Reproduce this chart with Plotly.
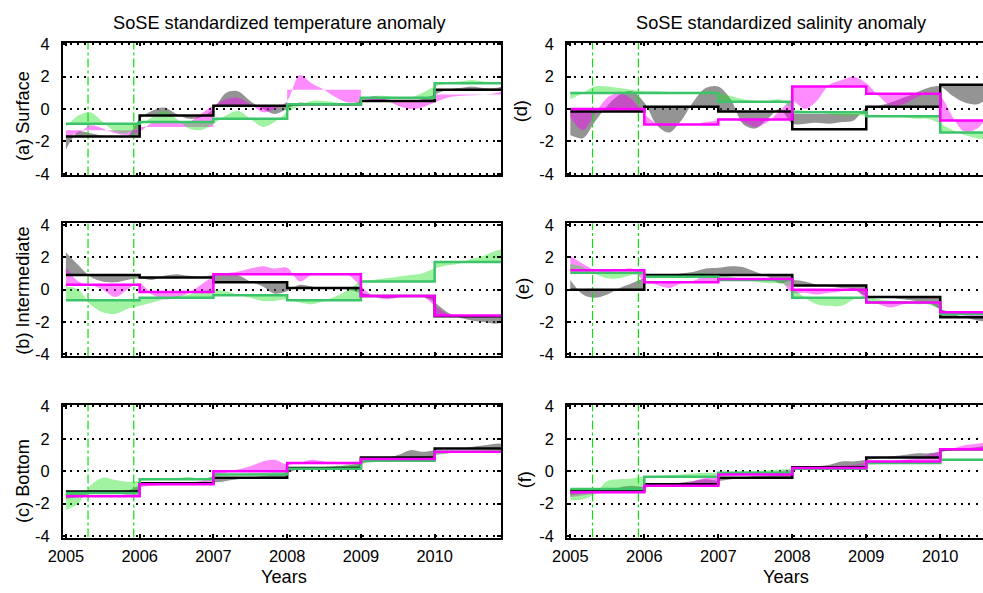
import plotly.graph_objects as go

# ---------------- data ----------------
T = [2005.0, 2005.17, 2005.33, 2005.5, 2005.67, 2005.83,
     2006.0, 2006.17, 2006.33, 2006.5, 2006.67, 2006.83,
     2007.0, 2007.17, 2007.33, 2007.5, 2007.67, 2007.83,
     2008.0, 2008.17, 2008.33, 2008.5, 2008.67, 2008.83,
     2009.0, 2009.17, 2009.33, 2009.5, 2009.67, 2009.83,
     2010.0, 2010.17, 2010.33, 2010.5, 2010.67, 2010.83, 2010.92]
YEAR_EDGES = [2005, 2006, 2007, 2008, 2009, 2010, 2010.92]
YEAR_TICKS = [2005, 2006, 2007, 2008, 2009, 2010]
Y_TICKS = [-4, -2, 0, 2, 4]
VLINES = [2005.3, 2005.92]

# (a) temperature, surface
a_blk = [-2.5, -1.4, -1.5, -1.65, -1.7, -1.7, -0.6, -0.1, 0.1, -0.3, -0.6, -0.5,
         0.0, 1.0, 1.1, 0.5, 0.0, -0.3, 0.0, 0.4, 0.3, 0.3, 0.3, 0.3,
         0.5, 0.6, 0.6, 0.5, 0.5, 0.6, 0.9, 1.2, 1.3, 1.4, 1.3, 1.3, 1.4]
a_blk_step = [-1.7, -0.4, 0.2, 0.3, 0.5, 1.2]
a_mag = [-1.7, -1.5, -1.0, -1.2, -1.5, -1.6, -1.4, -0.85, -0.8, -0.85, -0.8, -0.3,
         0.2, 0.6, 0.7, 0.3, -0.2, 0.0, 0.5, 2.1, 1.6, 1.2, 0.7, 0.4,
         0.5, 0.8, 0.6, 0.2, 0.0, 0.1, 0.4, 0.7, 0.8, 0.85, 0.9, 1.0, 1.1]
a_mag_step = [-1.3, -1.1, 0.2, 1.2, 0.5, 0.9]
a_grn = [-1.1, -0.4, -0.2, -0.8, -1.4, -1.5, -1.0, -0.5, -0.1, -0.6, -1.2, -1.3,
         -0.9, -0.4, -0.1, -0.6, -1.1, -0.8, -0.2, 0.2, 0.5, 0.5, 0.4, 0.2,
         0.5, 0.8, 0.8, 0.7, 0.7, 1.0, 1.4, 1.6, 1.7, 1.8, 1.7, 1.6, 1.6]
a_grn_step = [-0.9, -0.8, -0.6, 0.3, 0.7, 1.6]

# (b) temperature, intermediate
b_blk = [2.3, 1.5, 0.8, 0.5, 0.45, 0.6, 0.7, 0.6, 0.85, 0.95, 0.85, 0.8,
         0.9, 1.0, 0.9, 0.5, 0.2, -0.25, -0.1, 0.3, 0.2, 0.1, 0.05, 0.0,
         -0.2, -0.4, -0.5, -0.45, -0.4, -0.4, -0.8, -1.4, -1.7, -1.9, -2.0, -2.1, -2.0]
b_blk_step = [0.9, 0.75, 0.45, 0.1, -0.4, -1.65]
b_mag = [1.4, 0.5, 0.3, 0.0, -0.45, 0.0, 0.4, -0.3, -0.6, -0.5, -0.2, 0.3,
         0.8, 1.0, 1.1, 1.3, 1.45, 1.3, 1.35, 0.5, 0.9, 1.0, 1.0, 0.9,
         0.2, -0.4, -0.6, -0.5, -0.4, -0.4, -1.0, -1.5, -1.7, -1.7, -1.7, -1.6, -1.5]
b_mag_step = [0.3, -0.15, 0.95, 0.95, -0.4, -1.6]
b_grn = [0.2, 0.0, -0.9, -1.4, -1.5, -1.2, -1.0, -0.8, -0.6, -0.4, -0.3, -0.1,
         0.0, -0.1, -0.3, -0.5, -0.7, -0.7, -0.6, -0.8, -0.9, -0.7, -0.4, 0.0,
         0.5, 0.6, 0.7, 0.8, 0.9, 1.0, 1.3, 1.5, 1.6, 1.9, 2.1, 2.4, 2.5]
b_grn_step = [-0.65, -0.5, -0.35, -0.65, 0.5, 1.7]

# (c) temperature, bottom
c_blk = [-1.7, -1.6, -1.4, -1.3, -1.25, -1.2, -0.9, -0.8, -0.75, -0.7, -0.7, -0.7,
         -0.7, -0.6, -0.5, -0.4, -0.3, -0.2, -0.1, 0.15, 0.2, 0.25, 0.3, 0.35,
         0.5, 0.7, 0.8, 1.0, 1.3, 1.2, 1.3, 1.4, 1.4, 1.5, 1.6, 1.7, 1.7]
c_blk_step = [-1.25, -0.75, -0.4, 0.2, 0.85, 1.4]
c_mag = [-1.6, -1.55, -1.5, -1.5, -1.5, -1.4, -1.0, -0.9, -0.85, -0.8, -0.7, -0.6,
         -0.3, -0.1, 0.1, 0.3, 0.6, 0.7, 0.4, 0.5, 0.7, 0.6, 0.5, 0.4,
         0.5, 0.6, 0.7, 0.75, 0.8, 0.9, 1.0, 1.1, 1.15, 1.2, 1.2, 1.25, 1.25]
c_mag_step = [-1.55, -0.8, 0.0, 0.5, 0.75, 1.2]
c_grn = [-2.4, -2.0, -0.9, -0.4, -0.55, -0.65, -0.6, -0.55, -0.5, -0.45, -0.35, -0.5,
         -0.3, -0.25, -0.2, -0.15, -0.1, -0.05, 0.1, 0.15, 0.2, 0.25, 0.3, 0.4,
         0.45, 0.55, 0.6, 0.7, 0.8, 0.85, 1.0, 1.1, 1.2, 1.25, 1.3, 1.35, 1.35]
c_grn_step = [-1.35, -0.5, -0.2, 0.15, 0.65, 1.2]

# (d) salinity, surface
d_blk = [-1.6, -1.8, -0.8, 0.2, 0.9, 1.1, 0.4, -1.0, -1.45, -0.7, 0.5, 1.3,
         1.4, 0.6, -0.9, -1.2, -0.6, 0.0, -0.9, -0.9, -0.85, -0.9, -0.8, -0.7,
         0.1, 0.2, 0.4, 0.7, 1.0, 1.3, 1.4, 0.8, 0.4, 0.3, 0.7, 1.0, 1.1]
d_blk_step = [-0.15, 0.15, -0.15, -1.25, 0.15, 1.5]
d_blk_base = [-0.15, 0.15, -0.15, -0.3, 0.15, 1.5]
d_mag = [-0.5, -1.3, -0.3, 0.7, 1.0, 0.6, -0.3, -0.9, -1.0, -1.0, -0.95, -0.8,
         -0.7, -0.6, -0.8, -1.1, -0.8, -0.1, 0.5, 0.0, 0.5, 1.5, 1.8, 2.0,
         1.6, 0.8, 0.2, 0.3, 0.7, 1.0, 0.8, -0.5, -1.4, -1.2, -0.3, 0.2, 0.3]
d_mag_step = [0.0, -0.95, -0.65, 1.4, 0.95, -0.7]
d_grn = [0.6, 1.0, 1.4, 1.4, 1.3, 1.2, 1.1, 1.1, 1.05, 1.0, 1.0, 1.1,
         1.0, 0.8, 0.6, 0.5, 0.5, 0.6, 0.0, -0.1, -0.2, -0.3, -0.4, -0.4,
         -0.4, -0.45, -0.5, -0.5, -0.6, -0.6, -0.9, -1.3, -1.6, -1.8, -1.9, -2.0, -2.0]
d_grn_step = [1.0, 1.0, 0.45, -0.2, -0.45, -1.45]

# (e) salinity, intermediate
e_blk = [0.6, -0.3, -0.5, -0.3, 0.1, 0.4, 0.7, 0.9, 0.9, 1.0, 1.1, 1.3,
         1.35, 1.45, 1.4, 1.1, 0.8, 0.4, 0.6, 0.5, 0.3, 0.2, 0.1, 0.0,
         -0.4, -0.5, -0.5, -0.6, -0.7, -0.8, -1.2, -1.5, -1.7, -1.9, -2.0, -2.0, -2.1]
e_blk_step = [0.0, 0.9, 0.9, 0.26, -0.46, -1.7]
e_mag = [2.1, 1.6, 1.2, 1.1, 1.2, 1.3, 0.5, 0.3, 0.1, 0.4, 0.55, 0.85,
         0.65, 0.7, 0.7, 0.7, 0.7, 0.6, -0.2, -0.2, -0.3, -0.2, -0.1, 0.1,
         -0.6, -0.9, -1.1, -0.9, -0.8, -0.8, -1.2, -1.5, -1.6, -1.7, -1.8, -1.9, -1.9]
e_mag_step = [1.2, 0.45, 0.65, 0.0, -0.8, -1.4]
e_grn = [1.6, 1.4, 1.0, 0.7, 0.7, 0.9, 0.9, 0.9, 0.9, 0.9, 1.0, 1.0,
         0.9, 0.8, 0.6, 0.5, 0.4, 0.4, 0.1, -0.5, -0.9, -1.0, -1.0, -0.6,
         -0.4, -0.6, -0.7, -0.8, -0.9, -0.9, -1.2, -1.4, -1.45, -1.5, -1.5, -1.5, -1.5]
e_grn_step = [1.05, 0.8, 0.6, -0.5, -0.8, -1.5]

# (f) salinity, bottom
f_blk = [-1.5, -1.4, -1.3, -1.2, -1.0, -0.9, -1.0, -0.9, -0.8, -0.7, -0.6, -0.5,
         -0.6, -0.5, -0.4, -0.3, -0.25, -0.2, 0.0, 0.2, 0.3, 0.4, 0.6, 0.6,
         0.7, 0.8, 0.9, 1.0, 1.1, 1.1, 1.2, 1.3, 1.4, 1.5, 1.6, 1.7, 1.7]
f_blk_step = [-1.2, -0.8, -0.4, 0.25, 0.85, 1.35]
f_mag = [-1.6, -1.5, -1.4, -1.3, -1.2, -1.1, -0.9, -0.85, -0.8, -0.75, -0.6, -0.4,
         -0.3, -0.25, -0.2, -0.15, -0.1, 0.0, 0.1, 0.2, 0.2, 0.3, 0.35, 0.4,
         0.5, 0.55, 0.6, 0.7, 0.8, 1.0, 1.2, 1.4, 1.6, 1.7, 1.8, 1.7, 1.7]
f_mag_step = [-1.3, -0.9, -0.2, 0.2, 0.6, 1.35]
f_grn = [-1.8, -1.75, -1.4, -0.6, -0.5, -0.45, -0.35, -0.3, -0.25, -0.2, -0.15, -0.1,
         -0.1, -0.05, 0.0, 0.0, 0.05, 0.1, 0.15, 0.2, 0.2, 0.25, 0.3, 0.35,
         0.4, 0.45, 0.5, 0.5, 0.55, 0.6, 0.7, 0.7, 0.75, 0.75, 0.75, 0.7, 0.7]
f_grn_step = [-1.1, -0.35, -0.1, 0.15, 0.5, 0.7]

# ---------------- styling ----------------
W, H = 983, 593
FONT = "Liberation Sans, Arial, sans-serif"
FILL = {"k": "rgba(70,70,70,0.58)", "m": "rgba(255,0,255,0.45)", "g": "rgba(30,225,30,0.42)"}
LINE = {"k": "#000000", "m": "#ff00ff", "g": "#3cc46a"}

# the page is photographed with the paper spanning pixels x 13..969, y 2..591
PX0, PXW, PY0, PYH = 13.0, 956.0, 2.0, 589.0


def FX(px):
    return min(max((px - PX0) / PXW, 0.0), 1.0)


def FY(py):
    return min(max(1 - (py - PY0) / PYH, 0.0), 1.0)


panels = [
    ("(a) Surface", 0, 0, [("k", a_blk, a_blk_step, a_blk_step), ("m", a_mag, a_mag_step, None),
                          ("g", a_grn, a_grn_step, a_grn_step)]),
    ("(b) Intermediate", 0, 1, [("k", b_blk, b_blk_step, b_blk_step), ("m", b_mag, b_mag_step, b_mag_step),
                               ("g", b_grn, b_grn_step, b_grn_step)]),
    ("(c) Bottom", 0, 2, [("k", c_blk, c_blk_step, c_blk_step), ("m", c_mag, c_mag_step, c_mag_step),
                         ("g", c_grn, c_grn_step, c_grn_step)]),
    ("(d)", 1, 0, [("k", d_blk, d_blk_base, d_blk_step), ("m", d_mag, d_mag_step, d_mag_step),
                  ("g", d_grn, d_grn_step, d_grn_step)]),
    ("(e)", 1, 1, [("k", e_blk, e_blk_step, e_blk_step), ("m", e_mag, e_mag_step, e_mag_step),
                  ("g", e_grn, e_grn_step, e_grn_step)]),
    ("(f)", 1, 2, [("k", f_blk, f_blk_step, f_blk_step), ("m", f_mag, f_mag_step, f_mag_step),
                  ("g", f_grn, f_grn_step, f_grn_step)]),
]

col_px = [(60, 493), (558, 969)]
col_range = [[2004.955, 2010.90], [2004.953, 2010.578]]
row_px = [(39, 171), (223, 355), (408, 540)]
ylab_pos = {(0, 0): (21, 112), (0, 1): (21, 290), (0, 2): (21, 484),
            (1, 0): (513, 107), (1, 1): (514, 288), (1, 2): (517, 483)}

TICK_FS = 16.4
LAB_FS = 18.2

fig = go.Figure()
layout = dict(width=W, height=H, margin=dict(l=0, r=0, t=0, b=0),
              paper_bgcolor="white", plot_bgcolor="white", showlegend=False,
              font=dict(family=FONT, size=TICK_FS, color="black"))
annotations = []


def ext(v):
    return list(v) + [v[-1]]


for i, (label, col, row, series) in enumerate(panels):
    sfx = "" if i == 0 else str(i + 1)
    xa, ya = "x" + sfx, "y" + sfx
    x0, x1 = col_px[col]
    y0, y1 = row_px[row]
    pad = 0.1 * (y1 - y0) / 8.0
    layout["xaxis" + sfx] = dict(
        domain=[FX(x0), FX(x1)], range=col_range[col], anchor=ya,
        showline=True, linecolor="black", linewidth=1.5, mirror="allticks",
        ticks="inside", ticklen=4, tickwidth=2, tickcolor="black",
        tickvals=YEAR_TICKS, ticktext=[str(v) for v in YEAR_TICKS],
        showticklabels=(row == 2), showgrid=False, zeroline=False,
        tickfont=dict(size=TICK_FS, family=FONT), ticklabelstandoff=3)
    layout["yaxis" + sfx] = dict(
        domain=[FY(y1 + pad), FY(y0 - pad)], range=[-4.1, 4.1], anchor=xa,
        showline=True, linecolor="black", linewidth=1.5,
        mirror=("allticks" if col == 0 else False),
        ticks="inside", ticklen=4, tickwidth=2, tickcolor="black",
        tickvals=Y_TICKS, ticktext=[str(v) for v in Y_TICKS],
        showgrid=True, gridcolor="black", gridwidth=2, griddash="2px,5.3px",
        zeroline=False, tickfont=dict(size=TICK_FS, family=FONT), ticklabelstandoff=8)

    # shaded bands between each monthly curve and its annual base
    for key, curve, base, step in series:
        fig.add_trace(go.Scatter(x=YEAR_EDGES, y=ext(base), mode="lines",
                                 line=dict(width=0, shape="hv", color=FILL[key]),
                                 xaxis=xa, yaxis=ya, hoverinfo="skip"))
        fig.add_trace(go.Scatter(x=T, y=curve, mode="lines", fill="tonexty",
                                 fillcolor=FILL[key],
                                 line=dict(width=0, shape="spline", smoothing=0.9, color=FILL[key]),
                                 xaxis=xa, yaxis=ya, hoverinfo="skip"))
    # green dash-dot marker lines
    for xv in VLINES:
        fig.add_trace(go.Scatter(x=[xv, xv], y=[-4.1, 4.1], mode="lines",
                                 line=dict(color="#10dd10", width=1.2, dash="dashdot"),
                                 xaxis=xa, yaxis=ya, hoverinfo="skip"))
    # annual step lines
    order = {"k": 0, "g": 1, "m": 2}
    for key, curve, base, step in sorted(series, key=lambda s: order[s[0]]):
        if step is None:
            continue
        fig.add_trace(go.Scatter(x=YEAR_EDGES, y=ext(step), mode="lines",
                                 line=dict(color=LINE[key], width=2.5, shape="hv"),
                                 xaxis=xa, yaxis=ya, hoverinfo="skip"))

    lx, ly = ylab_pos[(col, row)]
    annotations.append(dict(text=label, x=FX(lx), y=FY(ly), xref="paper", yref="paper",
                            showarrow=False, textangle=-90, font=dict(size=LAB_FS, family=FONT),
                            xanchor="center", yanchor="middle"))

annotations += [
    dict(text="SoSE standardized temperature anomaly", x=FX(275), y=FY(17),
         xref="paper", yref="paper", showarrow=False, font=dict(size=LAB_FS, family=FONT),
         xanchor="center", yanchor="middle"),
    dict(text="SoSE standardized salinity anomaly", x=FX(770), y=FY(17),
         xref="paper", yref="paper", showarrow=False, font=dict(size=LAB_FS, family=FONT),
         xanchor="center", yanchor="middle"),
    dict(text="Years", x=FX(279), y=FY(582), xref="paper", yref="paper",
         showarrow=False, font=dict(size=LAB_FS, family=FONT), xanchor="center", yanchor="middle"),
    dict(text="Years", x=FX(774), y=FY(582), xref="paper", yref="paper",
         showarrow=False, font=dict(size=LAB_FS, family=FONT), xanchor="center", yanchor="middle"),
]
layout["annotations"] = annotations
fig.update_layout(**layout)
fig.write_html("out.html", config={"displayModeBar": False},
               post_script="document.body.style.margin='0';document.body.style.overflow='hidden';")
